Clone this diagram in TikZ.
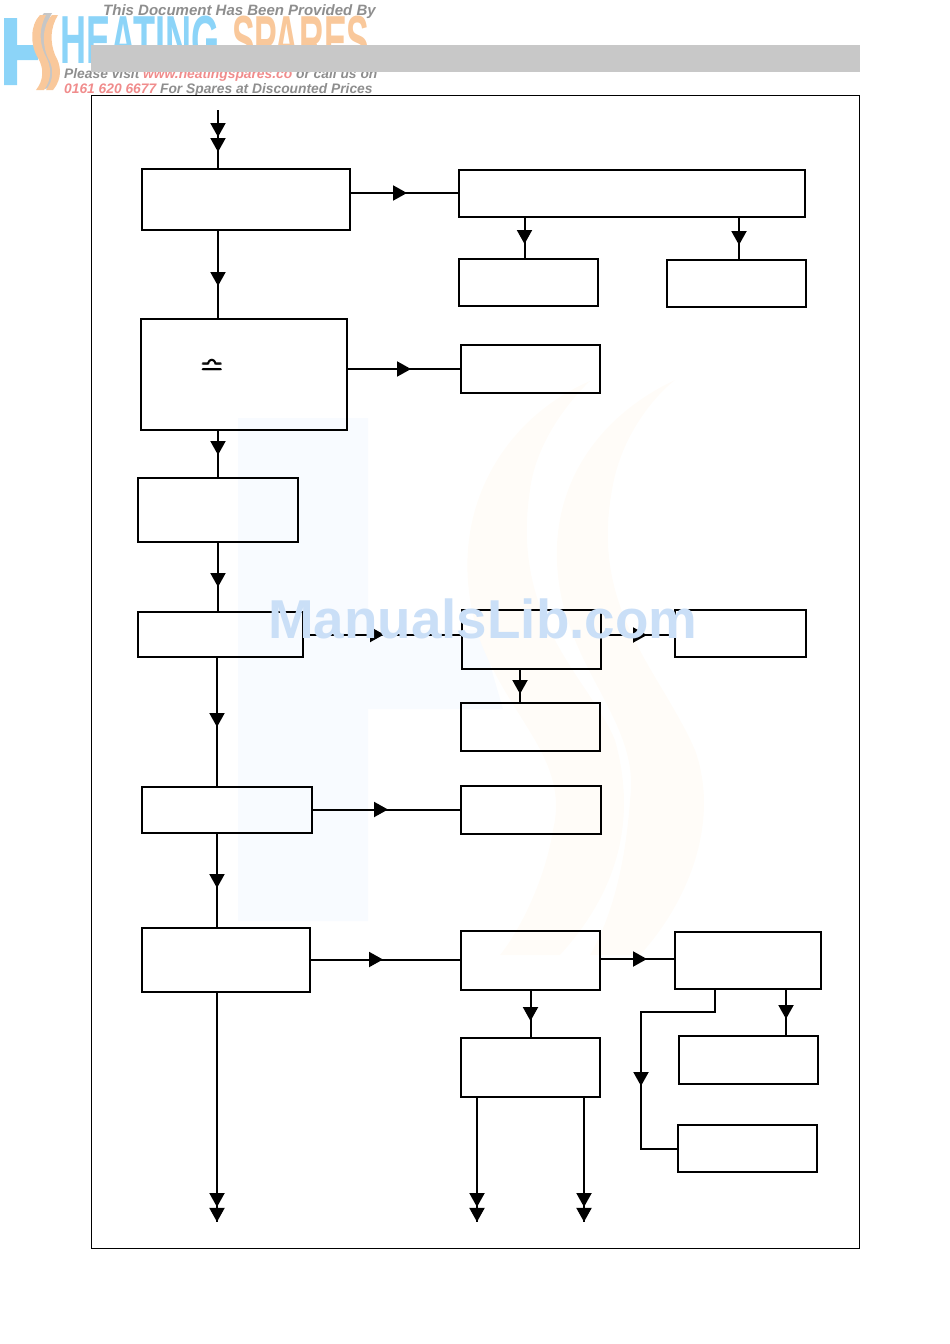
\documentclass[tikz,border=0pt]{standalone}
\usepackage{amsmath,amssymb}
\usepackage{fontspec}
\setmainfont{Liberation Sans}
\usetikzlibrary{positioning,arrows.meta,decorations.markings}
\definecolor{hsblue}{HTML}{8CD4F8}
\definecolor{hsorange}{HTML}{F9C89B}
\definecolor{hsgrey}{HTML}{8E8E8E}
\definecolor{hspink}{HTML}{F08C8C}
\definecolor{barbg}{HTML}{C8C8C8}
\definecolor{markblue}{HTML}{CADFF7}
\definecolor{paleblue}{HTML}{F8FBFF}
\definecolor{paleorange}{HTML}{FFFCF8}

\begin{document}
\begin{tikzpicture}[
  x=1pt,y=-1pt,
  >={Triangle[length=14pt,width=15pt]},
  blk/.style={draw=black,line width=2pt,inner sep=0pt,outer sep=0pt,anchor=north west},
  lin/.style={draw=black,line width=2pt},
  flow/.style={lin,postaction={decorate},decoration={markings,mark=at position #1 with {\arrow{>}}}},
  flowtwo/.style 2 args={lin,postaction={decorate},decoration={markings,mark=at position #1 with {\arrow{>}},mark=at position #2 with {\arrow{>}}}},
  hdr/.style={font=\fontsize{#1}{#1}\selectfont\bfseries\itshape,text=hsgrey,inner sep=0pt,anchor=base west},
  brand/.style={font=\fontsize{68}{68}\selectfont\bfseries,inner sep=0pt,anchor=base west,transform shape}
]
\useasboundingbox (0,0) rectangle (950,1344);
% pale logo behind the chart
\fill[paleblue] (238,418) -- (368,418) -- (368,630) -- (480,630) -- (503,709) -- (368,709) -- (368,921) -- (238,921) -- cycle;
\fill[paleorange] (590,381) .. controls (500,420) and (440,520) .. (480,640) .. controls (510,720) and (570,760) .. (553,830) .. controls (545,880) and (520,930) .. (500,955)
  -- (560,955) .. controls (610,900) and (640,830) .. (615,740) .. controls (590,680) and (510,620) .. (530,490) .. controls (535,450) and (560,410) .. (590,381) -- cycle;
\fill[paleorange] (675,380) .. controls (590,420) and (540,500) .. (562,600) .. controls (580,680) and (640,730) .. (630,800) .. controls (625,870) and (610,920) .. (590,955)
  -- (640,955) .. controls (690,900) and (720,820) .. (695,750) .. controls (660,670) and (590,610) .. (612,490) .. controls (620,440) and (650,400) .. (675,380) -- cycle;
% header logo
\fill[hsblue] (4,18) -- (17,18) -- (17,45) -- (38,45) -- (38,60) -- (17,60) -- (17,85) -- (4,85) -- cycle;
\fill[hsgrey!50] (44,13) .. controls (34,25) and (34,45) .. (42,58) .. controls (48,68) and (48,80) .. (40,90) -- (49,88) .. controls (58,78) and (56,65) .. (50,55) .. controls (44,42) and (44,28) .. (52,13) -- cycle;
\fill[hsorange] (40,15) .. controls (30,25) and (30,45) .. (38,58) .. controls (44,68) and (44,80) .. (36,90) -- (44,90) .. controls (53,78) and (51,65) .. (45,55) .. controls (39,42) and (39,28) .. (46,15) -- cycle;
\fill[hsorange] (52,15) .. controls (42,25) and (42,45) .. (48,58) .. controls (54,68) and (54,80) .. (46,90) -- (53,90) .. controls (63,78) and (61,65) .. (55,55) .. controls (50,42) and (50,28) .. (58,15) -- cycle;
\node[brand,xscale=0.53,text=hsblue] (heating) at (60,63) {HEATING};
\node[brand,xscale=0.5,text=hsorange] (spares) at (232,63) {SPARES};
\node[hdr=15] (provided) at (103,15) {This Document Has Been Provided By};
\node[hdr=13.8] (visit) at (64,78) {Please visit \textcolor{hspink}{www.heatingspares.co} or call us on};
\node[hdr=13.8] (phone) at (64,93) {\textcolor{hspink}{0161 620 6677} For Spares at Discounted Prices};
\node[fill=barbg,inner sep=0pt,outer sep=0pt,minimum width=769,minimum height=27,anchor=north west] (bar) at (91,45) {};
\node[draw=black,line width=1pt,inner sep=0pt,outer sep=0pt,minimum width=768,minimum height=1153,anchor=north west] (frame) at (91.5,95.5) {};
% left column
\node[blk,minimum width=208,minimum height=61] (A) at (142,169) {};
\node[blk,minimum width=206,minimum height=111,below=89pt of A.south west,anchor=north west,xshift=-1pt] (E) {};
\node[blk,minimum width=160,minimum height=64,below=48pt of E.south west,anchor=north west,xshift=-3pt] (G) {};
\node[blk,minimum width=165,minimum height=45,below=70pt of G.south west,anchor=north west] (H) {};
\node[blk,minimum width=170,minimum height=46,below=130pt of H.south west,anchor=north west,xshift=4pt] (L) {};
\node[blk,minimum width=168,minimum height=64,below=95pt of L.south west,anchor=north west] (N) {};
\node[font=\fontsize{29}{30}\selectfont,inner sep=0pt] (sym) at (212.5,367) {$\pmb{\bumpeq}$};
% right columns
\node[blk,minimum width=346,minimum height=47,right=109pt of A.north east,anchor=north west,yshift=-1pt] (B) {};
\node[blk,minimum width=139,minimum height=47,below=42pt of B.south west,anchor=north west] (C) {};
\node[blk,minimum width=139,minimum height=47,below=43pt of B.south east,anchor=north east,xshift=1pt] (D) {};
\node[blk,minimum width=139,minimum height=48,right=114pt of E.north east,anchor=north west,yshift=-26pt] (F) {};
\node[blk,minimum width=139,minimum height=59,right=159pt of H.north east,anchor=north west,yshift=2pt] (I) {};
\node[blk,minimum width=131,minimum height=47,right=74pt of I.north east,anchor=north west] (J) {};
\node[blk,minimum width=139,minimum height=48,below=34pt of I.south west,anchor=north west,xshift=-1pt] (K) {};
\node[blk,minimum width=140,minimum height=48,right=149pt of L.north east,anchor=north west,yshift=1pt] (M) {};
\node[blk,minimum width=139,minimum height=59,right=151pt of N.north east,anchor=north west,yshift=-3pt] (O) {};
\node[blk,minimum width=146,minimum height=57,right=75pt of O.north east,anchor=north west,yshift=-1pt] (P) {};
\node[blk,minimum width=139,minimum height=59,below=48pt of O.south west,anchor=north west] (Q) {};
\node[blk,minimum width=139,minimum height=48,below=47pt of P.south west,anchor=north west,xshift=4pt] (R) {};
\node[blk,minimum width=139,minimum height=47,below=41pt of R.south west,anchor=north west,xshift=-1pt] (S) {};
% free ends and off-centre entries
\coordinate (infeed) at (218,110);
\coordinate (outmain) at (217,1222);
\coordinate (outa) at (477,1222);
\coordinate (outb) at (584,1222);
\coordinate (bx) at (459,193);
\coordinate (cx) at (524.5,259);
\coordinate (dx) at (739,260);
\coordinate (jx) at (675,635);
\coordinate (kx) at (520,703);
\coordinate (mx) at (461,809.5);
\coordinate (ox) at (461,959.5);
\coordinate (qx) at (675,959);
\coordinate (rx) at (786,1036);
\coordinate (px) at (715,989);
\coordinate (turn) at (641,1012);
% main run
\draw[flowtwo={27pt}{42pt}] (infeed) -- (A.north -| infeed);
\draw[flow=56pt] (A.south -| infeed) -- (E.north -| infeed);
\draw[flow=25pt] (E.south -| G.north) -- (G.north);
\draw[flow=45pt] (G.south) -- (G.south |- H.north);
\draw[flow=70pt] (H.south -| outmain) -- (L.north -| outmain);
\draw[flow=55pt] (L.south -| outmain) -- (N.north -| outmain);
\draw[flowtwo={215pt}{229.9pt}] (N.south -| outmain) -- (outmain);
% branches
\draw[flow=57pt] (A.east |- bx) -- (bx);
\draw[flow=27pt] (B.south -| cx) -- (cx);
\draw[flow=28pt] (B.south -| dx) -- (dx);
\draw[flow=64pt] (E.east |- F.west) -- (F.west);
\draw[flow=81pt] (H.east) -- (H.east -| I.west);
\draw[flow=46pt] (I.east |- jx) -- (jx);
\draw[flow=25pt] (I.south -| kx) -- (kx);
\draw[flow=76pt] (L.east |- mx) -- (mx);
\draw[flow=73pt] (N.east |- ox) -- (ox);
\draw[flow=47pt] (O.east |- qx) -- (qx);
\draw[flow=31pt] (O.south) -- (Q.north);
\draw[flow=30pt] (P.south -| rx) -- (rx);
\draw[flow=171pt] (px) |- (turn) |- (S.west);
\draw[flowtwo={110pt}{124.9pt}] (Q.south -| outa) -- (outa);
\draw[flowtwo={110pt}{124.9pt}] (Q.south -| outb) -- (outb);
% watermark
\node[font=\fontsize{54.8}{54.8}\selectfont\bfseries,text=markblue,inner sep=0pt,anchor=base west] (mark) at (268,638) {ManualsLib.com};
\end{tikzpicture}
\end{document}
